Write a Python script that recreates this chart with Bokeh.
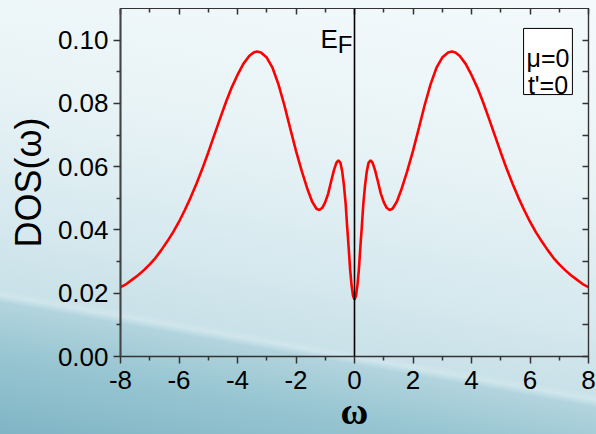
from bokeh.plotting import figure
from bokeh.models import (Range1d, LinearAxis, FixedTicker, NumeralTickFormatter,
                          Label, BoxAnnotation, Span, CustomJSTickFormatter)
from bokeh.embed import file_html
from bokeh.resources import INLINE

# ---- data ----
omega = [-8.0, -7.8, -7.6, -7.4, -7.2, -7.0, -6.8, -6.6, -6.4, -6.2, -6.0, -5.8, -5.6, -5.4,
         -5.2, -5.0, -4.8, -4.6, -4.4, -4.2, -4.0, -3.8, -3.6, -3.45, -3.33, -3.2, -3.0,
         -2.8, -2.6, -2.4, -2.2, -2.0, -1.8, -1.6, -1.45, -1.3, -1.2, -1.1, -1.0, -0.9,
         -0.8, -0.7, -0.62, -0.55, -0.48, -0.42, -0.36, -0.30, -0.25, -0.20, -0.15, -0.10,
         -0.05, 0.0,
         0.05, 0.10, 0.15, 0.20, 0.25, 0.30, 0.36, 0.42, 0.48, 0.55, 0.62, 0.7, 0.8, 0.9,
         1.0, 1.1, 1.2, 1.3, 1.45, 1.6, 1.8, 2.0, 2.2, 2.4, 2.6, 2.8, 3.0, 3.2, 3.33, 3.45,
         3.6, 3.8, 4.0, 4.2, 4.4, 4.6, 4.8, 5.0, 5.2, 5.4, 5.6, 5.8, 6.0, 6.2, 6.4, 6.6,
         6.8, 7.0, 7.2, 7.4, 7.6, 7.8, 8.0]
dos = [0.0219, 0.0229, 0.0243, 0.0257, 0.0273, 0.0291, 0.0312, 0.0337, 0.0364, 0.0393,
       0.0426, 0.0463, 0.0503, 0.0547, 0.0594, 0.0645, 0.0698, 0.0751, 0.0803, 0.0850,
       0.0890, 0.0925, 0.0950, 0.0961, 0.0964, 0.0961, 0.0945, 0.0912, 0.0860, 0.0795,
       0.0722, 0.0650, 0.0585, 0.0527, 0.0490, 0.0467, 0.0463, 0.0470, 0.0488, 0.0515,
       0.0553, 0.0590, 0.0612, 0.0620, 0.0612, 0.0585, 0.0540, 0.0480, 0.0410, 0.0345,
       0.0275, 0.0225, 0.0192, 0.0180,
       0.0192, 0.0225, 0.0275, 0.0345, 0.0410, 0.0480, 0.0540, 0.0585, 0.0612, 0.0620,
       0.0612, 0.0590, 0.0553, 0.0515, 0.0488, 0.0470, 0.0463, 0.0467, 0.0490, 0.0527,
       0.0585, 0.0650, 0.0722, 0.0795, 0.0860, 0.0912, 0.0945, 0.0961, 0.0964, 0.0961,
       0.0950, 0.0925, 0.0890, 0.0850, 0.0803, 0.0751, 0.0698, 0.0645, 0.0594, 0.0547,
       0.0503, 0.0463, 0.0426, 0.0393, 0.0364, 0.0337, 0.0312, 0.0291, 0.0273, 0.0257,
       0.0243, 0.0229, 0.0219]

x_ticks = [-8, -6, -4, -2, 0, 2, 4, 6, 8]
x_minor = [-7, -5, -3, -1, 1, 3, 5, 7]
y_ticks = [0.0, 0.02, 0.04, 0.06, 0.08, 0.10]
y_minor = [0.01, 0.03, 0.05, 0.07, 0.09]
y_all = [0.0, 0.01, 0.02, 0.03, 0.04, 0.05, 0.06, 0.07, 0.08, 0.09, 0.10]

FONT = "Liberation Sans"
AXC = "#333333"

p = figure(width=596, height=434, output_backend="svg", toolbar_location=None,
           x_range=Range1d(-8, 8), y_range=Range1d(0, 0.11),
           min_border_left=120, min_border_right=8, min_border_top=8, min_border_bottom=78,
           x_axis_label="ω", y_axis_label="DOS(ω)")
p.border_fill_alpha = 0
p.background_fill_alpha = 0
p.outline_line_color = AXC
p.outline_line_width = 1.2
p.grid.visible = False
p.styles = {"background": "linear-gradient(190deg, #f4fafc 0%, #e8f3f6 35%, #d6e9ef 60%, "
                          "#c9e1e8 73%, #d0e6ec 74.2%, #b2d4de 75.6%, #98c6d2 85%, #80b5c5 100%)"}

# bottom axis
xa = p.xaxis[0]
xa.ticker = FixedTicker(ticks=x_ticks, minor_ticks=x_minor)
xa.formatter = CustomJSTickFormatter(code="return tick.toFixed(0)")
xa.major_tick_out = 7
xa.major_tick_in = 0
xa.minor_tick_out = 4
xa.minor_tick_in = 0
xa.axis_line_color = AXC
xa.axis_line_width = 1.6
xa.major_tick_line_color = AXC
xa.minor_tick_line_color = AXC
xa.major_tick_line_width = 1.5
xa.minor_tick_line_width = 1.5
xa.major_label_text_font = FONT
xa.major_label_text_font_size = "26px"
xa.major_label_text_color = "black"
xa.major_label_standoff = 7
xa.axis_label_text_font = "Liberation Serif"
xa.axis_label_text_font_size = "38px"
xa.axis_label_text_font_style = "bold"
xa.axis_label_text_color = "black"
xa.axis_label_standoff = -2

# left axis
ya = p.yaxis[0]
ya.ticker = FixedTicker(ticks=y_ticks, minor_ticks=y_minor)
ya.formatter = NumeralTickFormatter(format="0.00")
ya.major_tick_out = 7
ya.major_tick_in = 0
ya.minor_tick_out = 4
ya.minor_tick_in = 0
ya.axis_line_color = "#444444"
ya.axis_line_width = 2
ya.major_tick_line_color = AXC
ya.minor_tick_line_color = AXC
ya.major_tick_line_width = 1.5
ya.minor_tick_line_width = 1.5
ya.major_label_text_font = FONT
ya.major_label_text_font_size = "26px"
ya.major_label_text_color = "black"
ya.major_label_standoff = 5
ya.axis_label_text_font = FONT
ya.axis_label_text_font_size = "36px"
ya.axis_label_text_color = "black"
ya.axis_label_text_font_style = "normal"
ya.axis_label_standoff = 6

blank = CustomJSTickFormatter(code="return ''")

top = LinearAxis(ticker=FixedTicker(ticks=x_ticks, minor_ticks=x_minor), formatter=blank,
                 major_tick_in=6, major_tick_out=0, minor_tick_in=4, minor_tick_out=0,
                 major_label_standoff=0, major_label_text_font_size="0px",
                 axis_line_color=AXC, axis_line_width=1.2,
                 major_tick_line_color=AXC, minor_tick_line_color=AXC,
                 major_tick_line_width=1.5, minor_tick_line_width=1.5)
p.add_layout(top, "above")

right = LinearAxis(ticker=FixedTicker(ticks=y_all, minor_ticks=[]), formatter=blank,
                   major_tick_in=6, major_tick_out=0, minor_tick_in=0, minor_tick_out=0,
                   major_label_standoff=0, major_label_text_font_size="0px",
                   axis_line_color=AXC, axis_line_width=1.2,
                   major_tick_line_color=AXC, major_tick_line_width=1.5)
p.add_layout(right, "right")

# Fermi level line
p.add_layout(Span(location=0, dimension="height", line_color="black", line_width=1.6))

# DOS curve
p.line(omega, dos, line_color="#ff0000", line_width=2.6)

# E_F label
p.add_layout(Label(x=-1.16, y=0.1005, text="E", text_font=FONT, text_font_size="26px",
                   text_color="black", text_baseline="alphabetic"))
p.add_layout(Label(x=-0.57, y=0.0985, text="F", text_font=FONT, text_font_size="24px",
                   text_color="black", text_baseline="alphabetic"))

# parameter box
p.add_layout(BoxAnnotation(left=5.78, right=7.45, top=0.1037, bottom=0.0828,
                           fill_color="white", fill_alpha=1.0, line_color="black",
                           line_alpha=1.0, line_width=1))
p.add_layout(Label(x=6.615, y=0.0943, text="μ=0", text_font=FONT, text_font_size="25px",
                   text_color="black", text_align="center", text_baseline="alphabetic"))
p.add_layout(Label(x=6.615, y=0.0857, text="t'=0", text_font=FONT, text_font_size="25px",
                   text_color="black", text_align="center", text_baseline="alphabetic"))

open("out.html", "w").write(file_html(p, INLINE))
